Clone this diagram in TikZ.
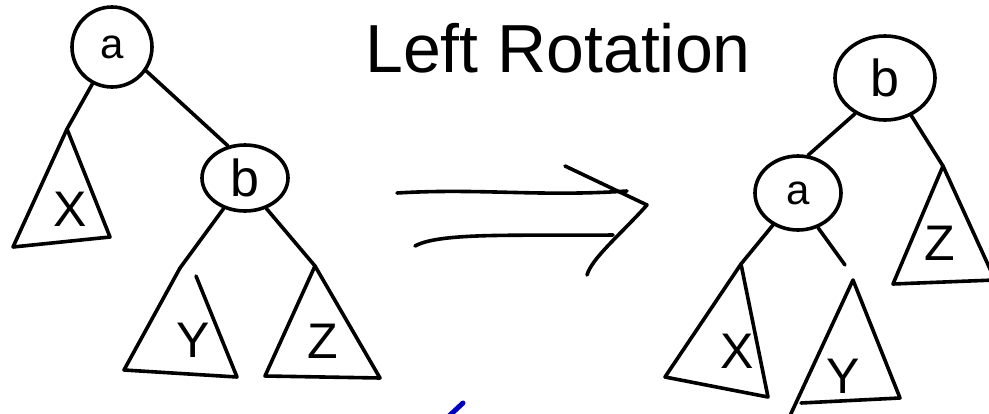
\documentclass[tikz,border=0pt]{standalone}
\usepackage{fontspec}
\setmainfont{Liberation Sans}
\usetikzlibrary{shapes.geometric}
\begin{document}
\begin{tikzpicture}[x=1pt,y=-1pt,line width=3.6pt,line cap=round,line join=round,
  ell/.style={ellipse,draw,inner sep=0pt,font=\fontsize{42}{42}\selectfont},
  bigl/.style={font=\fontsize{52}{52}\selectfont},
  lbl/.style={inner sep=0pt,font=\fontsize{50}{50}\selectfont},
  inkblue/.style={draw=blue!75!black,line width=5pt}]
\useasboundingbox (0,0) rectangle (989,413);
\clip (0,0) rectangle (989,413);

% title
\node[inner sep=0pt,font=\fontsize{68}{68}\selectfont] (title) at (558,48) {Left Rotation};

% ---------- left tree ----------
\node[ell,minimum width=80pt,minimum height=80pt] (La) at (112,47) {a};
\node[ell,bigl,minimum width=86pt,minimum height=66pt] (Lb) at (245,178) {b};
\coordinate (LXt) at (67,129);
\coordinate (LXl) at (13,247);
\coordinate (LXr) at (110,237);
\coordinate (LYt) at (180,268);
\coordinate (LYl) at (124,370);
\coordinate (LYr) at (237,377);
\coordinate (LYe) at (196,276);
\coordinate (LZt) at (315,266);
\coordinate (LZl) at (265,376);
\coordinate (LZr) at (380,378);

\draw (La.-35) -- (Lb.118);
\draw (La.-118) -- (LXt);
\draw (Lb.-125) -- (LYt);
\draw (Lb.-55) -- (LZt);
\draw (LXt) -- (LXl) -- (LXr) -- cycle;
\draw (LYt) -- (LYl) -- (LYr) -- (LYe);
\draw (LZt) -- (LZl) -- (LZr) -- cycle;
\node[lbl] (LX) at (70,209) {X};
\node[lbl] (LY) at (193,340) {Y};
\node[lbl] (LZ) at (323,341) {Z};

% ---------- arrow ----------
\coordinate (A1s) at (397,193);
\coordinate (A1e) at (627,191);
\coordinate (A2s) at (415,246);
\coordinate (A2e) at (613,235);
\coordinate (Ht) at (565,166);
\coordinate (Hm) at (647,205);
\coordinate (Hb) at (587,275);
\draw (A1s) .. controls (480,188) and (540,197) .. (A1e);
\draw (A2s) .. controls (440,232) and (520,236) .. (A2e);
\draw (Ht) -- (Hm) .. controls (620,235) and (592,258) .. (Hb);

% ---------- right tree ----------
\node[ell,bigl,minimum width=100pt,minimum height=84pt] (Rb) at (885,78) {b};
\node[ell,minimum width=86pt,minimum height=74pt] (Ra) at (798,193) {a};
\coordinate (RZt) at (943,166);
\coordinate (RZl) at (893,284);
\coordinate (RZr) at (995,280);
\coordinate (RXt) at (741,264);
\coordinate (RXl) at (665,377);
\coordinate (RXr) at (768,397);
\coordinate (RYt) at (853,280);
\coordinate (RYl) at (788,420);
\coordinate (RYbl) at (801,403);
\coordinate (RYr) at (900,398);
\coordinate (RYe) at (845,265);

\draw (Rb.-130) -- (Ra.75);
\draw (Rb.-55) -- (RZt);
\draw (Ra.-128) -- (RXt);
\draw (Ra.-60) -- (RYe);
\draw (RZt) -- (RZl) -- (RZr) -- cycle;
\draw (RXt) -- (RXl) -- (RXr) -- cycle;
\draw (RYl) -- (RYt) -- (RYr) -- (RYbl);
\node[lbl] (RX) at (737,351) {X};
\node[lbl] (RY) at (843,376) {Y};
\node[lbl] (RZ) at (940,243) {Z};

% blue stroke at bottom
\draw[inkblue] (449,416) -- (463,403);
\end{tikzpicture}
\end{document}
